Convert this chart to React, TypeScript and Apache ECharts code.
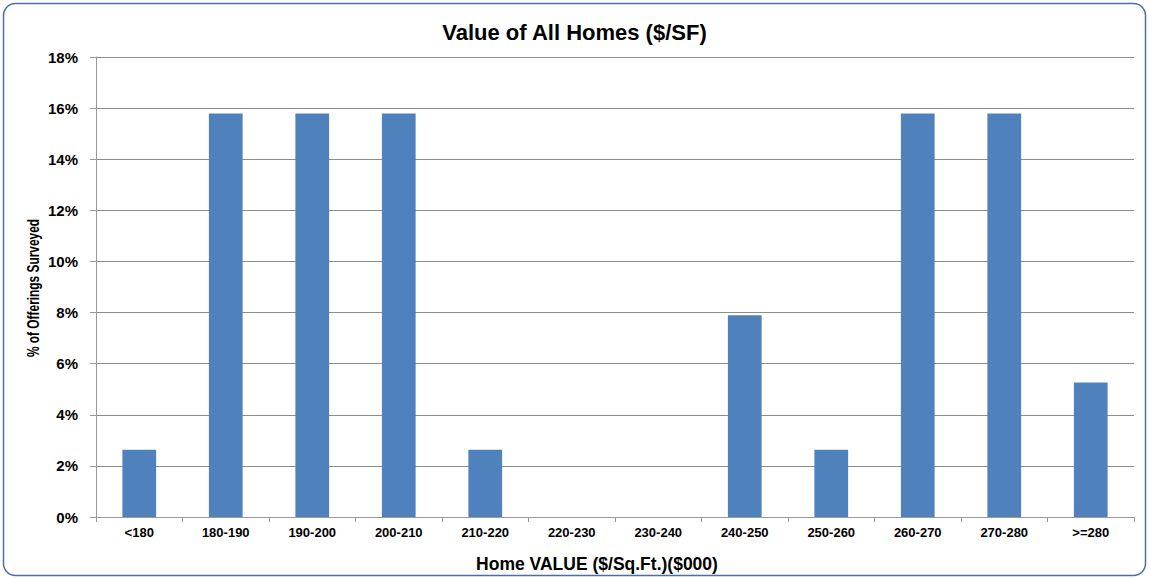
import React, { useEffect, useRef } from "react";
import * as echarts from "echarts";

const categories = ["<180", "180-190", "190-200", "200-210", "210-220", "220-230", "230-240", "240-250", "250-260", "260-270", "270-280", ">=280"];
const values = [2.63, 15.79, 15.79, 15.79, 2.63, 0, 0, 7.89, 2.63, 15.79, 15.79, 5.26];
const yTicks = [0, 2, 4, 6, 8, 10, 12, 14, 16, 18];
const yAxisName = "% of Offerings Surveyed";

export default function App() {
  const ref = useRef<HTMLDivElement>(null);
  useEffect(() => {
    if (!ref.current) return;
    const chart = echarts.init(ref.current, null, { renderer: "svg" });
    const font = "'Liberation Sans', Arial, sans-serif";
    chart.setOption({
      animation: false,
      backgroundColor: "#ffffff",
      title: {
        text: "Value of All Homes ($/SF)",
        left: "center",
        top: 16,
        textStyle: { fontFamily: font, fontSize: 22, fontWeight: "bold", color: "#000" },
      },
      graphic: [
        {
          type: "rect",
          shape: { x: 3.5, y: 3.5, width: 1142, height: 572, r: 12 },
          style: { fill: "none", stroke: "#4a6fa5", lineWidth: 1.5 },
          silent: true,
          z: -1,
        },
        {
          type: "text",
          x: 33,
          y: 288,
          rotation: Math.PI / 2,
          scaleX: 0.7,
          style: {
            text: yAxisName,
            fontFamily: font,
            fontSize: 17,
            fontWeight: "bold",
            fill: "#000",
            align: "center",
            verticalAlign: "middle",
          },
          silent: true,
        },
      ],
      grid: { left: 96, right: 15, top: 57, bottom: 61, containLabel: false, outerBoundsMode: "none" },
      xAxis: {
        type: "category",
        data: categories,
        name: "Home VALUE ($/Sq.Ft.)($000)",
        nameLocation: "middle",
        nameGap: 38,
        nameTextStyle: { fontFamily: font, fontSize: 17.5, fontWeight: "bold", color: "#000", padding: [0, 36, 0, 0] },
        axisLine: { lineStyle: { color: "#999", width: 1 } },
        axisTick: { show: true, alignWithLabel: false, length: 5, lineStyle: { color: "#999" } },
        axisLabel: { fontFamily: font, fontSize: 13, fontWeight: "bold", color: "#000", margin: 9, interval: 0 },
        splitLine: { show: false },
      },
      yAxis: {
        type: "value",
        min: 0,
        max: 18,
        interval: 2,
        axisLine: { show: true, lineStyle: { color: "#999", width: 1 } },
        axisTick: { show: true, inside: false, length: 6, lineStyle: { color: "#999" } },
        axisLabel: {
          fontFamily: font, fontSize: 15, fontWeight: "bold", color: "#000", margin: 18,
          formatter: (v: number) => (yTicks.includes(v) ? v + "%" : ""),
        },
        splitLine: { show: true, lineStyle: { color: "#8c8c8c", width: 1 } },
      },
      series: [
        {
          type: "bar",
          data: values,
          barCategoryGap: "61%",
          itemStyle: { color: "#4f81bd" },
        },
      ],
    });
    return () => chart.dispose();
  }, []);
  return <div ref={ref} style={{ position: "absolute", left: 0, top: 0, width: 1149, height: 578 }} />;
}
